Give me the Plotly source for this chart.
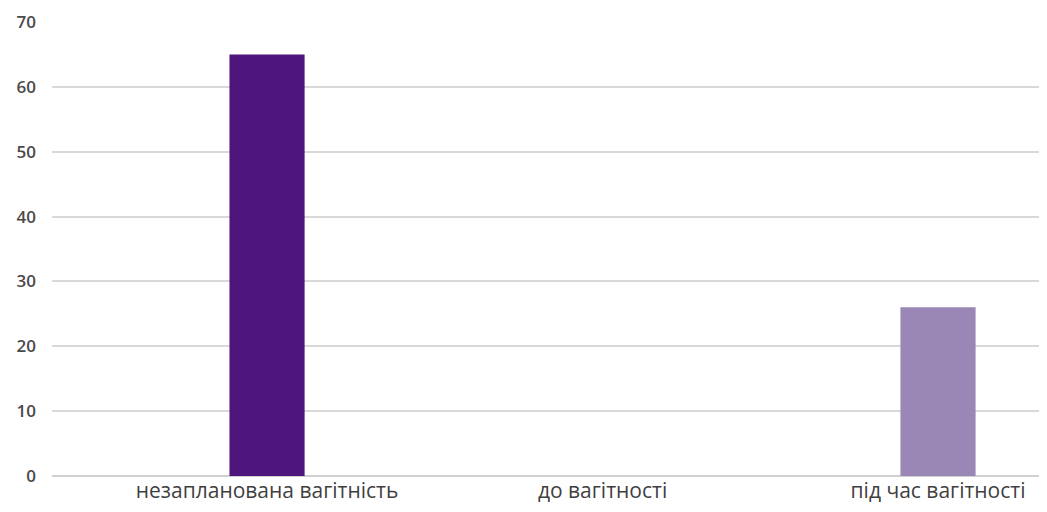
import plotly.graph_objects as go

categories = ["незапланована вагітність", "до вагітності", "під час вагітності"]
values = [65, 0, 26]
colors = ["#4e167c", "#9a87b5", "#9a87b5"]
y_ticks = [0, 10, 20, 30, 40, 50, 60, 70]

fig = go.Figure()
fig.add_trace(go.Bar(
    x=list(range(len(categories))),
    y=values,
    marker=dict(color=colors, line=dict(width=0)),
    width=0.224,
))

fig.update_layout(
    width=1031, height=496,
    margin=dict(l=44, r=0, t=14, b=28),
    paper_bgcolor="white", plot_bgcolor="white",
    showlegend=False,
    font=dict(family="Open Sans", color="#444444"),
)
fig.update_xaxes(
    tickmode="array",
    tickvals=list(range(len(categories))),
    ticktext=categories,
    range=[-0.641, 2.301],
    showgrid=False, zeroline=False, showline=False,
    ticks="", tickfont=dict(size=21, color="#3f3f3f"),
)
fig.update_yaxes(
    range=[0, 70],
    tickvals=y_ticks,
    showgrid=True, gridcolor="#d9d9d9", gridwidth=2,
    zeroline=True, zerolinecolor="#d0d0d0", zerolinewidth=2,
    showline=False, ticks="",
    ticklabelstandoff=15,
    tickfont=dict(size=17, color="#4a4a4a", family="Open Sans", weight=600),
)

fig.write_html("out.html")
